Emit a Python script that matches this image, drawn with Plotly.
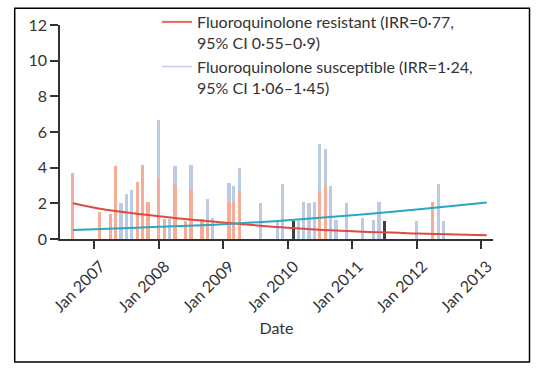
import plotly.graph_objects as go

# ---- data ----
bar_months = ["2006-09-01", "2007-02-01", "2007-04-01", "2007-05-01", "2007-06-01", "2007-07-01",
              "2007-08-01", "2007-09-01", "2007-10-01", "2007-11-01", "2008-01-01", "2008-02-01",
              "2008-03-01", "2008-04-01", "2008-06-01", "2008-07-01", "2008-09-01", "2008-10-01",
              "2008-11-01", "2009-02-01", "2009-03-01", "2009-04-01", "2009-08-01", "2009-11-01",
              "2009-12-01", "2010-02-01", "2010-03-01", "2010-04-01", "2010-05-01", "2010-06-01",
              "2010-07-01", "2010-08-01", "2010-09-01", "2010-10-01", "2010-12-01", "2011-03-01",
              "2011-05-01", "2011-06-01", "2011-07-01", "2012-01-01", "2012-04-01", "2012-05-01",
              "2012-06-01"]
resistant = [3.7, 1.5, 1.4, 4.1, 0, 0,
             0, 3.2, 4.15, 2.05, 3.4, 1.1,
             0, 3.05, 1.0, 2.75, 1.1, 1.0,
             0, 2.1, 2.05, 2.7, 0, 0,
             0, 0, 0, 0, 0, 0,
             2.7, 3.05, 0, 0, 0, 0,
             0, 0, 0, 0, 2.1, 0,
             0]
susceptible = [0, 0, 0, 0, 2.0, 2.5,
               2.75, 0, 0, 0, 3.25, 0,
               1.1, 1.05, 0, 1.4, 0, 1.25,
               1.15, 1.05, 0.95, 1.3, 2.0, 1.0,
               3.1, 0, 1.0, 2.1, 2.0, 2.1,
               2.6, 2.0, 3.0, 1.05, 2.0, 1.15,
               1.05, 2.1, 0, 1.0, 0, 3.1,
               1.0]
other = [0, 0, 0, 0, 0, 0,
         0, 0, 0, 0, 0, 0,
         0, 0, 0, 0, 0, 0,
         0, 0, 0, 0, 0, 0,
         0, 1.0, 0, 0, 0, 0,
         0, 0, 0, 0, 0, 0,
         0, 0, 1.0, 0, 0, 0,
         0]

trend_dates = ["2006-09-01", "2007-01-01", "2008-01-01", "2009-01-01", "2010-01-01",
               "2011-01-01", "2012-01-01", "2013-02-01"]
trend_resistant = [2.0, 1.75, 1.27, 0.92, 0.63, 0.43, 0.31, 0.21]
trend_susceptible = [0.5, 0.55, 0.68, 0.83, 1.05, 1.33, 1.65, 2.05]

tick_dates = ["2007-01-01", "2008-01-01", "2009-01-01", "2010-01-01", "2011-01-01",
              "2012-01-01", "2013-01-01"]
tick_labels = ["Jan 2007", "Jan 2008", "Jan 2009", "Jan 2010", "Jan 2011", "Jan 2012", "Jan 2013"]
y_ticks = [0, 2, 4, 6, 8, 10, 12]

name_res = "Fluoroquinolone resistant (IRR=0·77,<br>95% CI 0·55–0·9)"
name_sus = "Fluoroquinolone susceptible (IRR=1·24,<br>95% CI 1·06–1·45)"

FONT = "Lato"
BAR_W = 18 * 24 * 3600 * 1000

fig = go.Figure()
fig.add_trace(go.Bar(x=bar_months, y=resistant, width=BAR_W, marker_color="#f6ad98",
                     marker_line_width=0, showlegend=False))
fig.add_trace(go.Bar(x=bar_months, y=susceptible, width=BAR_W, marker_color="#bccae4",
                     marker_line_width=0, showlegend=False))
fig.add_trace(go.Bar(x=bar_months, y=other, width=BAR_W, marker_color="#3b4046",
                     marker_line_width=0, showlegend=False))
fig.add_trace(go.Scatter(x=trend_dates, y=trend_resistant, mode="lines", line_shape="spline",
                         line=dict(color="#df4a40", width=2), showlegend=False))
fig.add_trace(go.Scatter(x=trend_dates, y=trend_susceptible, mode="lines", line_shape="spline",
                         line=dict(color="#2ca6c4", width=2), showlegend=False))
# legend entries
fig.add_trace(go.Scatter(x=[None], y=[None], mode="lines", name=name_res,
                         line=dict(color="#e8675c", width=2)))
fig.add_trace(go.Scatter(x=[None], y=[None], mode="lines", name=name_sus,
                         line=dict(color="#c5cfe3", width=1.5)))

fig.update_layout(
    width=548, height=377,
    margin=dict(l=60, r=55, t=25, b=138, autoexpand=False),
    paper_bgcolor="white", plot_bgcolor="white",
    barmode="stack", bargap=0,
    font=dict(family=FONT, size=15, color="#333333"),
    legend=dict(xref="container", yref="container", x=157 / 548, y=1 - 5 / 377,
                xanchor="left", yanchor="top", valign="top", traceorder="normal",
                bgcolor="rgba(0,0,0,0)", font=dict(size=16, color="#333333"),
                tracegroupgap=0),
    xaxis=dict(type="date", range=["2006-06-20", "2013-03-08"], tickmode="array",
               tickvals=tick_dates, ticktext=tick_labels, tickangle=-45,
               showline=True, linecolor="#333333", linewidth=1.5,
               ticks="outside", ticklen=8, tickwidth=1.5, tickcolor="#333333",
               showgrid=False, zeroline=False, automargin=False,
               tickfont=dict(size=16), ticklabelshift=6, ticklabelstandoff=2,
               title=dict(text="Date", font=dict(size=16), standoff=8)),
    yaxis=dict(range=[0, 12], tickmode="array", tickvals=y_ticks,
               showline=True, linecolor="#333333", linewidth=1.5,
               ticks="outside", ticklen=8, tickwidth=1.5, tickcolor="#333333",
               showgrid=False, zeroline=False, automargin=False,
               tickfont=dict(size=16)),
    shapes=[dict(type="rect", xref="paper", yref="paper",
                 x0=-0.1046, x1=1.0843, y0=-0.5748, y1=1.078,
                 line=dict(color="black", width=1.5))],
)

fig.write_html("out.html", config={"displayModeBar": False},
               post_script="document.body.style.margin='0';")
